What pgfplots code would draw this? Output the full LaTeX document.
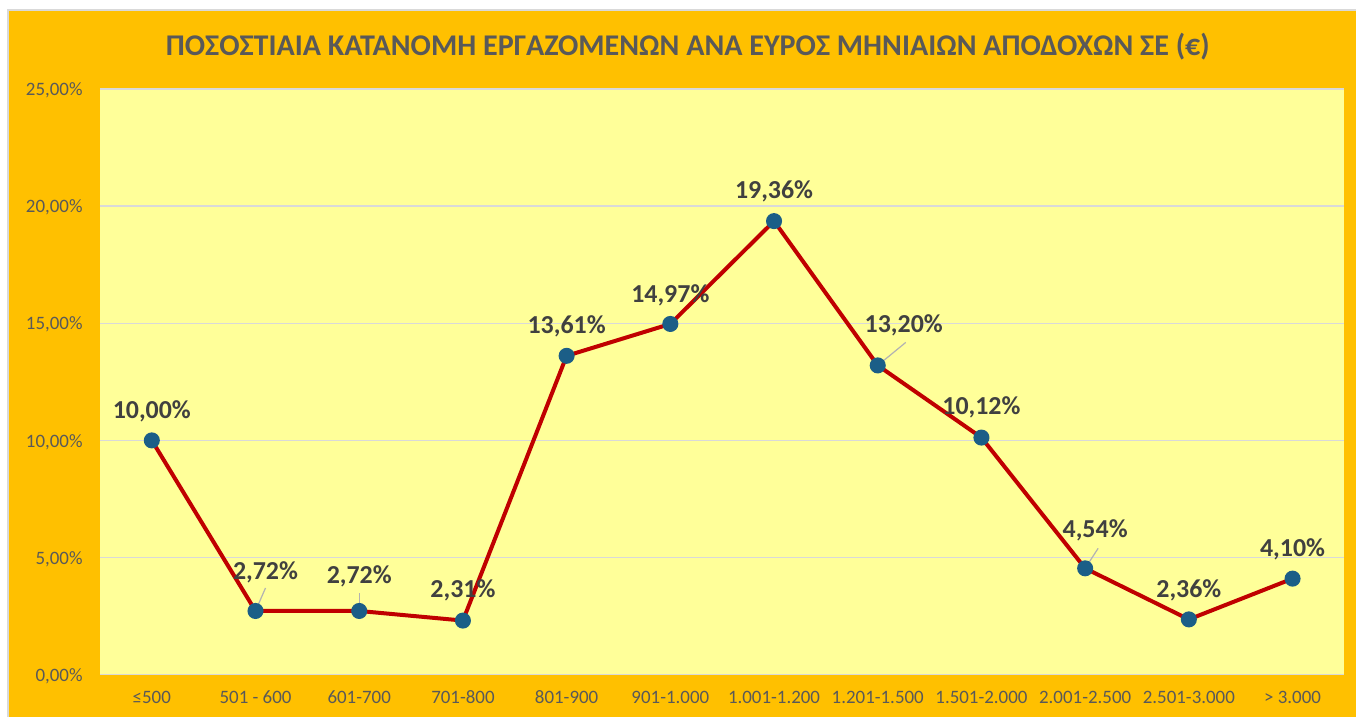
\documentclass[border=0pt]{standalone}
\usepackage{pgfplots}
\pgfplotsset{compat=1.18}
\usepackage{pgfplotstable}
\usepackage{fontspec}
\setmainfont{Carlito}
\definecolor{bgorange}{HTML}{FFC000}
\definecolor{plotbg}{HTML}{FFFF99}
\definecolor{linered}{HTML}{C00000}
\definecolor{markblue}{HTML}{1B5E87}
\definecolor{txtgray}{HTML}{595959}
\definecolor{lblgray}{HTML}{404040}
\definecolor{gridgray}{HTML}{D9D9D9}
\pgfplotstableread{
x y lbl dx dy
0 10.00 10,00 0 14.5
1 2.72 2,72 5 19.5
2 2.72 2,72 0 17.5
3 2.31 2,31 0 15
4 13.61 13,61 0 15
5 14.97 14,97 0 14.5
6 19.36 19,36 0 15
7 13.20 13,20 13 20
8 10.12 10,12 0 15
9 4.54 4,54 5 19
10 2.36 2,36 0 14.5
11 4.10 4,10 0 14.5
}\datatable
\begin{document}
\begin{tikzpicture}
\fill[white] (0,0) rectangle (678.5bp,358.5bp);
\fill[bgorange] (4bp,0) rectangle (678.5bp,353.5bp);
\draw[gridgray, line width=0.6bp] (4bp,0) -- (4bp,353.5bp) -- (678.5bp,353.5bp);
\node[font=\bfseries\fontsize{15.1}{17}\selectfont, text=txtgray] at (344bp,335bp)
  {ΠΟΣΟΣΤΙΑΙΑ ΚΑΤΑΝΟΜΗ ΕΡΓΑΖΟΜΕΝΩΝ ΑΝΑ ΕΥΡΟΣ ΜΗΝΙΑΙΩΝ ΑΠΟΔΟΧΩΝ ΣΕ (€)};
\begin{axis}[
  at={(50bp,21bp)}, anchor=south west,
  scale only axis, width=622.5bp, height=293bp,
  xmin=-0.5, xmax=11.5, ymin=0, ymax=25,
  axis background/.style={fill=plotbg},
  axis line style={draw=none},
  major tick length=0pt,
  ytick={0,5,10,15,20,25},
  yticklabels={{0,00\%},{5,00\%},{10,00\%},{15,00\%},{20,00\%},{25,00\%}},
  xtick={0,...,11},
  xticklabels={≤500,501 - 600,601-700,701-800,801-900,901-1.000,1.001-1.200,1.201-1.500,1.501-2.000,2.001-2.500,2.501-3.000,> 3.000},
  ymajorgrids, grid style={gridgray, line width=0.7bp},
  yticklabel style={font=\fontsize{9.5}{11}\selectfont, text=txtgray, inner sep=0pt, anchor=base east, xshift=-8.5bp, yshift=-3.3bp},
  xticklabel style={font=\fontsize{9.5}{11}\selectfont, text=txtgray, inner sep=0pt, anchor=base, yshift=-14.25bp},
  clip=false,
]
\addplot[linered, line width=2bp, mark=*, mark size=3bp,
  mark options={fill=markblue, draw=markblue},
  point meta=explicit symbolic,
  visualization depends on={\thisrow{dx}\as\dx},
  visualization depends on={\thisrow{dy}\as\dy},
  nodes near coords={\pgfplotspointmeta\%},
  nodes near coords style={font=\bfseries\fontsize{13}{15}\selectfont, text=lblgray, anchor=center, xshift=\dx bp, yshift=\dy bp},
] table[x=x, y=y, meta=lbl] {\datatable};
\draw[gray!60, line width=0.6bp] (axis cs:1,2.72) -- ++(5bp,11.5bp);
\draw[gray!60, line width=0.6bp] (axis cs:2,2.72) -- ++(0bp,9bp);
\draw[gray!60, line width=0.6bp] (axis cs:7,13.20) -- ++(14bp,11.5bp);
\draw[gray!60, line width=0.6bp] (axis cs:9,4.54) -- ++(6.5bp,10bp);
\end{axis}
\end{tikzpicture}
\end{document}
